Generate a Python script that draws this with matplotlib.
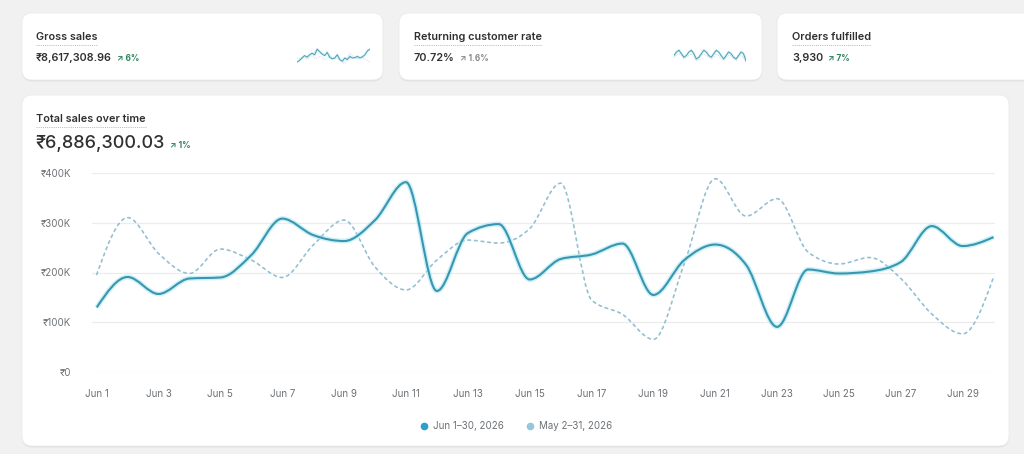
import numpy as np
import matplotlib
matplotlib.use("Agg")
import matplotlib.pyplot as plt
from matplotlib.path import Path
from matplotlib.patches import PathPatch, FancyBboxPatch
from matplotlib.lines import Line2D

plt.rcParams['font.family'] = ['Inter', 'DejaVu Sans']

# data
days = list(range(1, 31))
sales_jun = [130, 191, 157, 188, 190, 235, 308, 275, 263, 305,
             381, 163, 279, 297, 186, 227, 236, 258, 155, 225,
             256, 215, 91, 206, 198, 202, 221, 293, 253, 271]
sales_may = [196, 310, 238, 198, 247, 225, 190, 255, 305, 211,
             165, 225, 265, 259, 288, 379, 145, 116, 66, 218,
             388, 313, 348, 241, 217, 230, 188, 117, 77, 191]
tick_days = [1, 3, 5, 7, 9, 11, 13, 15, 17, 19, 21, 23, 25, 27, 29]
tick_labels = ["Jun %d" % d for d in tick_days]
y_ticks = [0, 100, 200, 300, 400]
y_labels = ["₹0", "₹100K", "₹200K", "₹300K", "₹400K"]
legend_labels = ["Jun 1–30, 2026", "May 2–31, 2026"]

gross_spark = [240, 244, 250, 256, 252, 258, 262, 258, 272, 266,
               260, 256, 264, 252, 248, 250, 258, 246, 242, 250,
               246, 254, 250, 251, 254, 250, 253, 258, 268, 272]
gross_prev = [250, 248, 252, 250, 246, 252, 256, 250, 248, 254,
              252, 246, 250, 256, 252, 248, 250, 246, 240, 236,
              250, 262, 256, 250, 248, 252, 250, 248, 244, 240]
returning_spark = [70, 72, 73, 71, 69, 70, 72, 73, 71, 68,
                   69, 71, 73, 72, 70, 69, 71, 73, 72, 70,
                   68, 70, 72, 71, 69, 68, 70, 72, 71, 67]
returning_prev = [69, 70, 71, 70, 68, 69, 70, 71, 69, 67,
                  68, 70, 71, 70, 69, 68, 69, 71, 70, 68,
                  67, 69, 70, 70, 68, 67, 69, 70, 69, 66]

cards = [
    ("Gross sales", "₹8,617,308.96", "↗ 6%", True, 36),
    ("Returning customer rate", "70.72%", "↗ 1.6%", False, 414),
    ("Orders fulfilled", "3,930", "↗ 7%", True, 792),
]

W, H = 1024, 454
TXT = '#303030'
GREY = '#6d7175'
GREEN = '#29845a'
LINE = '#3996b0'
HALO = '#a6e6f3'
PREV = '#94c0d1'


def monotone_path(xs, ys):
    # cubic bezier path with monotone (Fritsch-Carlson) tangents
    xs = np.asarray(xs, float)
    ys = np.asarray(ys, float)
    h = np.diff(xs)
    s = np.diff(ys) / h
    n = len(xs)
    m = np.zeros(n)
    for i in range(1, n - 1):
        p = (s[i - 1] * h[i] + s[i] * h[i - 1]) / (h[i - 1] + h[i])
        m[i] = (np.sign(s[i - 1]) + np.sign(s[i])) * min(abs(s[i - 1]), abs(s[i]), 0.5 * abs(p))
    m[0] = (3 * s[0] - m[1]) / 2
    m[-1] = (3 * s[-1] - m[-2]) / 2
    verts = [(xs[0], ys[0])]
    codes = [Path.MOVETO]
    for i in range(n - 1):
        d = h[i] / 3
        verts += [(xs[i] + d, ys[i] + m[i] * d),
                  (xs[i + 1] - d, ys[i + 1] - m[i + 1] * d),
                  (xs[i + 1], ys[i + 1])]
        codes += [Path.CURVE4] * 3
    return Path(verts, codes)


fig = plt.figure(figsize=(W / 100, H / 100), dpi=100)
fig.patch.set_facecolor('#f1f1f1')

bg = fig.add_axes([0, 0, 1, 1])
bg.set_xlim(0, W)
bg.set_ylim(H, 0)
bg.axis('off')


def card(x0, y0, x1, y1):
    sh = FancyBboxPatch((x0, y0 + 1.5), x1 - x0, y1 - y0,
                        boxstyle="round,pad=0,rounding_size=10",
                        fc='#e0e0e0', ec='none', zorder=1)
    bx = FancyBboxPatch((x0, y0), x1 - x0, y1 - y0,
                        boxstyle="round,pad=0,rounding_size=10",
                        fc='white', ec='#ebebeb', lw=0.6, zorder=2)
    bg.add_patch(sh)
    bg.add_patch(bx)


card(22, 13, 383, 80)
card(399, 13, 762, 80)
card(777, 13, 1040, 80)
card(22, 95, 1009, 446)

fig.canvas.draw()
rend = fig.canvas.get_renderer()
inv = bg.transData.inverted()


def right_edge(t):
    bb = t.get_window_extent(renderer=rend)
    return inv.transform((bb.x1, bb.y0))[0]


def titled(x, y, s, size):
    t = bg.text(x, y, s, fontsize=size, fontweight='semibold', color=TXT,
                va='center', ha='left', zorder=5)
    x1 = right_edge(t)
    bg.plot([x, x1], [y + 8, y + 8], color='#b5b5b5', lw=0.7,
            ls=(0, (1, 1.2)), zorder=5)
    return t


for title, value, delta, up_green, x in cards:
    titled(x, 37, title, 7.8)
    v = bg.text(x, 58, value, fontsize=7.8, fontweight='semibold', color=TXT,
                va='center', ha='left', zorder=5)
    bg.text(right_edge(v) + 5, 58.5, delta, fontsize=6, fontweight='bold',
            color=GREEN if up_green else '#8a8a8a', va='center', ha='left', zorder=5)

titled(36, 119, "Total sales over time", 7.8)
big = bg.text(35, 144, "₹6,886,300.03", fontsize=13, fontweight='medium', color=TXT,
              va='center', ha='left', zorder=5)
bg.text(right_edge(big) + 6, 146, "↗ 1%", fontsize=6, fontweight='bold',
        color=GREEN, va='center', ha='left', zorder=5)

# sparklines
sparks = [(gross_spark, gross_prev, (297, 370, 44, 68), (225, 285)),
          (returning_spark, returning_prev, (674, 746, 45, 66), (64, 76))]
for vals, prev, (sx0, sx1, sy0, sy1), lims in sparks:
    sa = fig.add_axes([sx0 / W, 1 - sy1 / H, (sx1 - sx0) / W, (sy1 - sy0) / H])
    sa.axis('off')
    sa.plot(days, prev, color='#c4ccd0', lw=0.6, ls=(0, (1, 1.5)))
    sa.plot(days, vals, color=HALO, lw=1.8, alpha=0.5)
    sa.plot(days, vals, color='#4f9fb3', lw=0.7)
    sa.set_xlim(1, 30)
    sa.set_ylim(*lims)

# main chart
ax_l, ax_r = 92, 995
y_top, y_bot = 172.7, 372.3
ax = fig.add_axes([ax_l / W, 1 - y_bot / H, (ax_r - ax_l) / W, (y_bot - y_top) / H])
ax.set_facecolor('none')
px_day = (993.6 - 96.7) / 29
ax.set_xlim(1 - (96.7 - ax_l) / px_day, 30 + (ax_r - 993.6) / px_day)
ax.set_ylim(0, 400)
for sp in ax.spines.values():
    sp.set_visible(False)
ax.set_yticks(y_ticks)
ax.set_yticklabels(y_labels)
ax.set_xticks(tick_days)
ax.set_xticklabels(tick_labels)
ax.tick_params(length=0, labelsize=7, labelcolor=GREY)
ax.tick_params(axis='y', pad=15)
ax.tick_params(axis='x', pad=12)
ax.grid(axis='y', color='#ececec', lw=0.9)
ax.set_axisbelow(True)

ax.add_patch(PathPatch(monotone_path(days, sales_may), fill=False, ec=PREV,
                       lw=1.2, ls=(0, (1.6, 2.4)), zorder=3, capstyle='round'))
ax.add_patch(PathPatch(monotone_path(days, sales_jun), fill=False, ec=HALO,
                       lw=3.6, alpha=0.55, zorder=4))
ax.add_patch(PathPatch(monotone_path(days, sales_jun), fill=False, ec=LINE,
                       lw=1.5, zorder=5))

handles = [Line2D([], [], ls='none', marker='o', ms=4.5, color='#2a9fd0'),
           Line2D([], [], ls='none', marker='o', ms=4.5, color='#93c8dc')]
fig.legend(handles, legend_labels, loc='center', ncol=2, frameon=False,
           bbox_to_anchor=(516 / W, 1 - 426 / H), fontsize=7, labelcolor=GREY,
           handletextpad=0.4, columnspacing=2.2, handlelength=1)

fig.savefig('out.png', dpi=100, facecolor=fig.get_facecolor())
